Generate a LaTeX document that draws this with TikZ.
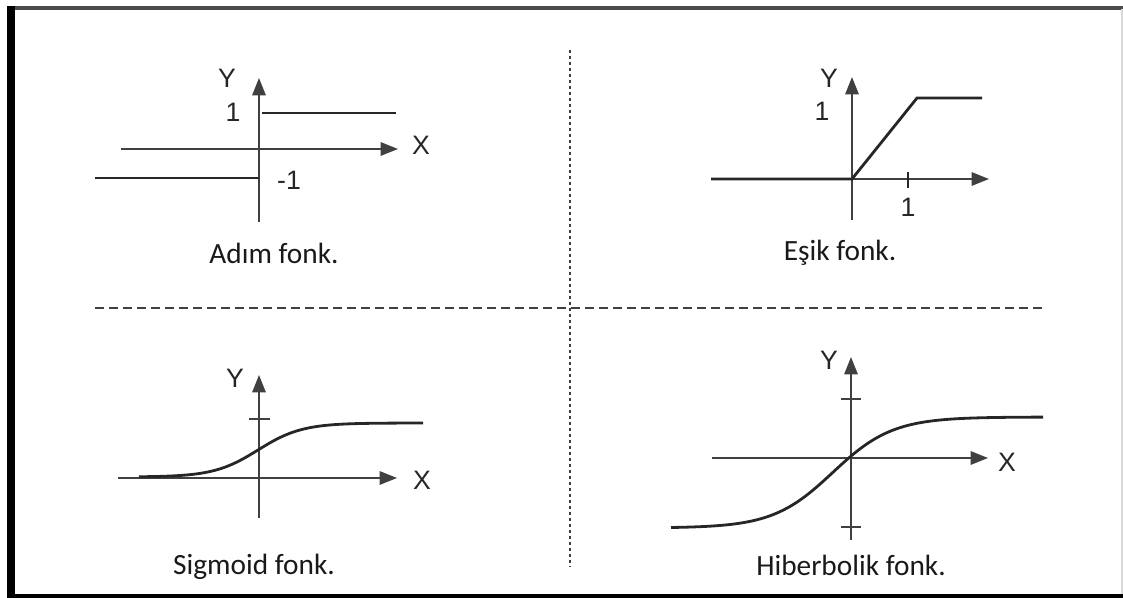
\documentclass[tikz,border=0pt]{standalone}
\usepackage{fontspec}
\setmainfont{Carlito}
\newfontfamily\axfont{Liberation Sans}
\usetikzlibrary{arrows.meta, positioning, calc}

\begin{document}
\begin{tikzpicture}[x=0.75pt, y=-0.75pt,
  every node/.style={inner sep=0pt},
  axis/.style={draw=black!75, line width=1.5pt, -{Triangle[length=13pt, width=10pt]}},
  fline/.style={draw=black!85, line width=2.1pt},
  tick/.style={draw=black!75, line width=1.5pt},
  lbl/.style={font=\axfont\fontsize{20}{20}\selectfont, text=black!85},
  captext/.style={font=\fontsize{22}{24}\selectfont, text=black!90}]
  \useasboundingbox (0,0) rectangle (1123,598);

  % frame
  \draw[black!70, line width=2.4pt] (7,8) -- (1123,8);
  \draw[black, line width=6pt] (11,6) -- (11,598);
  \draw[black, line width=3pt] (8,596) -- (1123,596);
  \draw[black!15, line width=0.8pt] (1122,9) -- (1122,594);

  % separators
  \draw[black!75, line width=1.3pt, dash pattern=on 6.5pt off 4pt] (95,308) -- (1042,308);
  \draw[black!75, line width=1.3pt, dash pattern=on 2pt off 2.5pt] (570,50) -- (570,567);

  % Adim fonk.
  \coordinate (a-xs) at (121,149);  \coordinate (a-xe) at (398,149);
  \coordinate (a-ys) at (259,222);  \coordinate (a-ye) at (259,78);
  \draw[axis] (a-xs) -- (a-xe);
  \draw[axis] (a-ys) -- (a-ye);
  \coordinate (a-up1) at (262,113); \coordinate (a-up2) at (396,113);
  \coordinate (a-lo1) at (95,178);  \coordinate (a-lo2) at (259,178);
  \draw[fline] (a-up1) -- (a-up2);
  \draw[fline] (a-lo1) -- (a-lo2);
  \node[lbl] (a-y) at (227,78) {Y};
  \node[lbl] (a-x) at (421,145) {X};
  \node[lbl] (a-one) at (233,112) {1};
  \node[lbl] (a-mone) at (289,180) {-1};
  \node[captext] (adim) at (274,253) {Adım fonk.};

  % Esik fonk.
  \coordinate (e-xs) at (711,179);  \coordinate (e-xe) at (989,179);
  \coordinate (e-ys) at (852,220);  \coordinate (e-ye) at (852,77);
  \draw[axis] (e-xs) -- (e-xe);
  \draw[axis] (e-ys) -- (e-ye);
  \coordinate (e-o) at (852,179); \coordinate (e-k) at (917,98); \coordinate (e-end) at (982,98);
  \draw[fline] (e-xs) -- (e-o) -- (e-k) -- (e-end);
  \coordinate (e-t1) at (908,172); \coordinate (e-t2) at (908,188);
  \draw[fline] (e-t1) -- (e-t2);
  \node[lbl] (e-y) at (829,78) {Y};
  \node[lbl] (e-one) at (822,111) {1};
  \node[lbl] (e-onex) at (908,207) {1};
  \node[captext] (esik) at (840,253) {Eşik fonk.};

  % Sigmoid fonk.
  \coordinate (s-xs) at (118,478);  \coordinate (s-xe) at (397,478);
  \coordinate (s-ys) at (259,518);  \coordinate (s-ye) at (259,375);
  \draw[axis] (s-xs) -- (s-xe);
  \draw[axis] (s-ys) -- (s-ye);
  \coordinate (s-t1) at (249,419); \coordinate (s-t2) at (270,419);
  \draw[tick] (s-t1) -- (s-t2);
  \draw[fline] plot[domain=139:423, samples=80, smooth] (\x, {477 - 54/(1+exp(-(\x-258)/22))});
  \node[lbl] (s-y) at (235,378) {Y};
  \node[lbl] (s-x) at (422,480) {X};
  \node[captext] (sigmoid) at (254,567) {Sigmoid fonk.};

  % Hiberbolik fonk.
  \coordinate (h-xs) at (712,458);  \coordinate (h-xe) at (988,458);
  \coordinate (h-ys) at (851,540);  \coordinate (h-ye) at (851,357);
  \draw[axis] (h-xs) -- (h-xe);
  \draw[axis] (h-ys) -- (h-ye);
  \coordinate (h-t1) at (841,399); \coordinate (h-t2) at (861,399);
  \coordinate (h-t3) at (841,527); \coordinate (h-t4) at (861,527);
  \draw[tick] (h-t1) -- (h-t2);
  \draw[tick] (h-t3) -- (h-t4);
  \draw[fline] plot[domain=671:1043, samples=100, smooth] (\x, {528 - 111/(1+exp(-(\x-832.7)/30))});
  \node[lbl] (h-y) at (829,360) {Y};
  \node[lbl] (h-x) at (1007,462) {X};
  \node[captext] (hiber) at (851,565) {Hiberbolik fonk.};
\end{tikzpicture}
\end{document}
